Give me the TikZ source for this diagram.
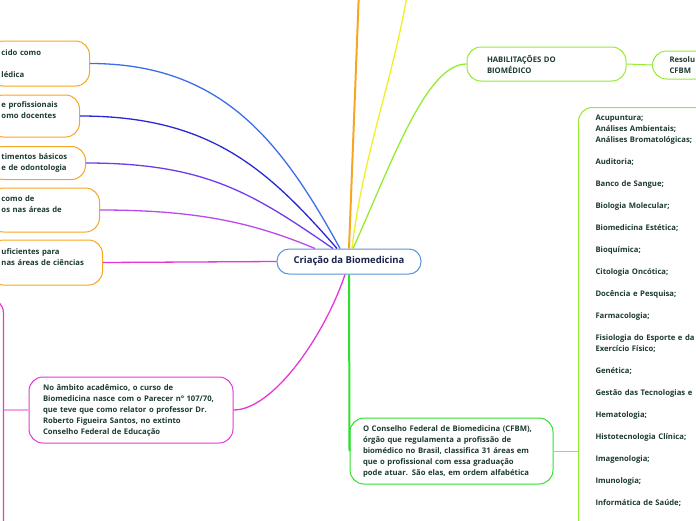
\documentclass[tikz,border=0pt]{standalone}
\usepackage{fontspec}
\setmainfont{Open Sans}
\usetikzlibrary{positioning}

\definecolor{laranja}{RGB}{246,166,35}
\definecolor{azulA}{RGB}{60,110,235}
\definecolor{azulB}{RGB}{40,40,215}
\definecolor{roxoA}{RGB}{110,60,235}
\definecolor{roxoB}{RGB}{185,75,235}
\definecolor{magenta}{RGB}{228,55,215}
\definecolor{rosa}{RGB}{245,165,230}
\definecolor{amarelo}{RGB}{240,240,40}
\definecolor{verdeA}{RGB}{150,235,50}
\definecolor{verdeB}{RGB}{45,225,45}
\definecolor{borda}{RGB}{85,150,215}
\definecolor{texto}{RGB}{28,58,50}
\definecolor{titulo}{RGB}{25,35,75}

\begin{document}
\begin{tikzpicture}[x=1pt, y=-1pt]

  % ── Estilos do mapa ────────────────────────
  \tikzset{
    caixa/.style = {draw, fill=white, line width=1pt, rounded corners=14pt,
                    align=left, text=texto, inner ysep=4pt,
                    font=\bfseries\fontsize{7.7}{11}\selectfont},
    ramo/.style = {caixa, draw=laranja, inner xsep=12pt},
    ligacao/.style = {line width=1.3pt},
    tronco/.style = {line width=2pt}
  }

  \useasboundingbox (0,0) rectangle (696,520);
  \clip (0,0) rectangle (696,520);

  % =========================================================
  % 1. NO CENTRAL
  % =========================================================
  \node[draw=borda, fill=white, line width=1pt, rounded corners=12pt,
        minimum width=144pt, minimum height=25pt, text=titulo,
        font=\bfseries\fontsize{9.5}{11}\selectfont]
    (centro) at (349,261.5) {Criação da Biomedicina};

  % =========================================================
  % 2. RAMOS DA ESQUERDA (cortados pela margem)
  % =========================================================
  \node[ramo, anchor=east, text width=76pt, minimum height=45pt]
    (ramoA) at (90,63.5) {cido como\\[11pt]lédica};
  \node[ramo, anchor=east, text width=66pt, minimum height=42pt]
    (ramoB) at (80,116) {e profissionais\\omo docentes\\\mbox{}};
  \node[ramo, anchor=east, text width=72pt, minimum height=33pt]
    (ramoC) at (86,163) {timentos básicos\\e de odontologia};
  \node[ramo, anchor=east, text width=86pt, minimum height=44pt]
    (ramoD) at (100,210) {como de\\os nas áreas de\\\mbox{}};
  \node[ramo, anchor=east, text width=89pt, minimum height=45pt]
    (ramoE) at (103,262.5) {uficientes para\\nas áreas de ciências\\\mbox{}};

  % Ligacoes curvas ate o topo do no central
  \draw[ligacao, azulA] (ramoA.east)
    .. controls +(130,0) and +(-60,-110) .. ([xshift=-9pt]centro.north);
  \draw[ligacao, azulB] (ramoB.east)
    .. controls +(130,0) and +(-70,-80) .. ([xshift=-12pt]centro.north);
  \draw[ligacao, roxoA] (ramoC.east)
    .. controls +(120,0) and +(-80,-55) .. ([xshift=-16pt]centro.north);
  \draw[ligacao, roxoB] (ramoD.east)
    .. controls +(100,0) and +(-60,-25) .. ([xshift=-34pt]centro.north);
  \draw[ligacao, magenta] (ramoE.east) -- (centro.west);

  % =========================================================
  % 3. RAMO DO PARECER (embaixo, a esquerda)
  % =========================================================
  \node[caixa, draw=magenta, inner xsep=14pt, text width=176pt, minimum height=66pt]
    (parecer) at (131,410)
    {No âmbito acadêmico, o curso de\\
     Biomedicina nasce com o Parecer nº 107/70,\\
     que teve que como relator o professor Dr.\\
     Roberto Figueira Santos, no extinto\\
     Conselho Federal de Educação};
  \node[draw=magenta, line width=1.2pt, rounded corners=14pt, anchor=north east,
        minimum width=100pt, minimum height=300pt]
    (historico) at (4,298) {};

  \draw[ligacao, magenta] ([xshift=-4pt]centro.south)
    .. controls +(-20,60) and +(40,0) .. (parecer.east);
  \draw[ligacao, rosa] (historico.east |- parecer.west) -- (parecer.west);

  % =========================================================
  % 4. RAMOS QUE SAEM PELO TOPO
  % =========================================================
  \coordinate (saidaA) at (359,-10);
  \coordinate (saidaB) at (408,-10);
  \draw[tronco, laranja] (centro.north) -- (saidaA);
  \draw[ligacao, amarelo] ([xshift=3pt]centro.north)
    .. controls +(10,-90) and +(-15,90) .. (saidaB);

  % =========================================================
  % 5. HABILITACOES E AREAS DE ATUACAO (direita)
  % =========================================================
  \node[caixa, draw=verdeA, inner xsep=20pt, text width=119pt, minimum height=34pt]
    (habil) at (546.5,64) {HABILITAÇÕES DO\\BIOMÉDICO};
  \node[caixa, draw=verdeA, anchor=west, inner xsep=17pt, text width=80pt,
        minimum height=28pt]
    (resol) at (652,65) {Resolu\\CFBM};
  \draw[ligacao, verdeA] ([xshift=4pt]centro.north)
    .. controls +(40,-89) and +(-40,0) .. (habil.west);
  \draw[line width=1pt, verdeA] (habil.east) -- (resol.west);

  \node[caixa, draw=verdeB, inner xsep=13pt, text width=177pt, minimum height=66pt]
    (conselho) at (451.5,451)
    {O Conselho Federal de Biomedicina (CFBM),\\
     órgão que regulamenta a profissão de\\
     biomédico no Brasil, classifica 31 áreas em\\
     que o profissional com essa graduação\\
     pode atuar. São elas, em ordem alfabética};
  \draw[tronco, verdeB] (centro.south) -- (conselho.west);

  \node[caixa, draw=verdeA, anchor=north west, inner xsep=17pt, inner ysep=7pt,
        text width=160pt]
    (areas) at (578,107)
    {Acupuntura;\\
     Análises Ambientais;\\
     Análises Bromatológicas;\\[11pt]
     Auditoria;\\[11pt]
     Banco de Sangue;\\[11pt]
     Biologia Molecular;\\[11pt]
     Biomedicina Estética;\\[11pt]
     Bioquímica;\\[11pt]
     Citologia Oncótica;\\[11pt]
     Docência e Pesquisa;\\[11pt]
     Farmacologia;\\[11pt]
     Fisiologia do Esporte e da\\
     Exercício Físico;\\[11pt]
     Genética;\\[11pt]
     Gestão das Tecnologias e\\[11pt]
     Hematologia;\\[11pt]
     Histotecnologia Clínica;\\[11pt]
     Imagenologia;\\[11pt]
     Imunologia;\\[11pt]
     Informática de Saúde;\\[11pt]
     \mbox{}};
  \draw[line width=1pt, verdeA] (conselho.east) -- (conselho.east -| areas.west);

\end{tikzpicture}
\end{document}
